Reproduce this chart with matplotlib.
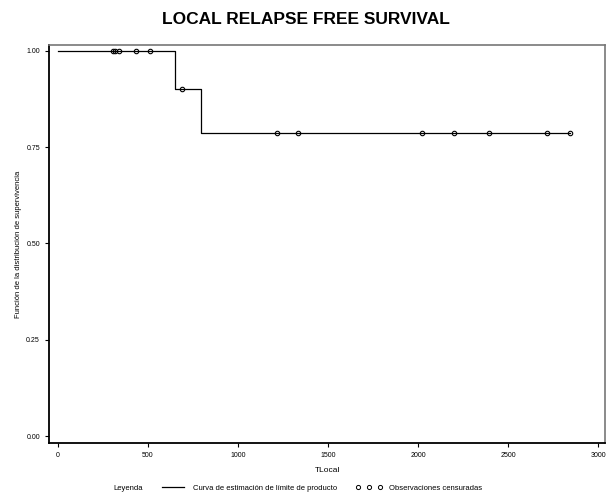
import numpy as np
import matplotlib
matplotlib.use("Agg")
import matplotlib.pyplot as plt
from matplotlib.lines import Line2D

plt.rcParams['font.family'] = ['Liberation Sans', 'DejaVu Sans']

### Data
# Kaplan-Meier steps (time, survival)
step_times = [0, 650, 794, 2844]
step_surv = [1.0, 0.9, 0.7875, 0.7875]
# censored observations
cens_times = [304, 317, 339, 433, 509, 691, 1215, 1333, 2022, 2200, 2394, 2715, 2844]
cens_surv = [1.0, 1.0, 1.0, 1.0, 1.0, 0.9, 0.7875, 0.7875, 0.7875, 0.7875, 0.7875, 0.7875, 0.7875]

x_ticks = [0, 500, 1000, 1500, 2000, 2500, 3000]
y_ticks = [0.00, 0.25, 0.50, 0.75, 1.00]

### Plot
fig = plt.figure(figsize=(6.12, 4.94), dpi=100)
ax = fig.add_axes([0.080, 0.103, 0.909, 0.806])

ax.step(step_times, step_surv, where="post", color="black", lw=0.9)
ax.plot(cens_times, cens_surv, "o", ms=3.2, mfc="none", mec="black", mew=0.8)

ax.set_xlim(-50, 3040)
ax.set_ylim(-0.018, 1.015)
ax.set_xticks(x_ticks)
ax.set_yticks(y_ticks)
ax.set_yticklabels([f"{v:.2f}" for v in y_ticks])
ax.tick_params(labelsize=5, length=3, width=0.8, direction="out")

for s in ["left", "bottom"]:
    ax.spines[s].set_linewidth(1.3)
for s in ["top", "right"]:
    ax.spines[s].set_color("#777777")
    ax.spines[s].set_linewidth(1.2)

ax.set_xlabel("TLocal", fontsize=6, labelpad=6)
ax.set_ylabel("Función de la distribución de supervivencia", fontsize=5.5, labelpad=3)

fig.suptitle("LOCAL RELAPSE FREE SURVIVAL", fontsize=12.5, fontweight="bold", y=0.975)

# legend
fig.text(0.185, 0.012, "Leyenda", fontsize=5.5, va="center")
handles = [Line2D([], [], color="black", lw=0.9),
           Line2D([], [], ls="none", marker="o", ms=3, mfc="none", mec="black", mew=0.7)]
fig.legend(handles, ["Curva de estimación de límite de producto", "Observaciones censuradas"],
           loc="center left", bbox_to_anchor=(0.25, 0.012), ncol=2, frameon=False,
           fontsize=5.5, numpoints=3, handlelength=3.5, columnspacing=2.5, handletextpad=0.8)

fig.savefig("out.png", dpi=100)
